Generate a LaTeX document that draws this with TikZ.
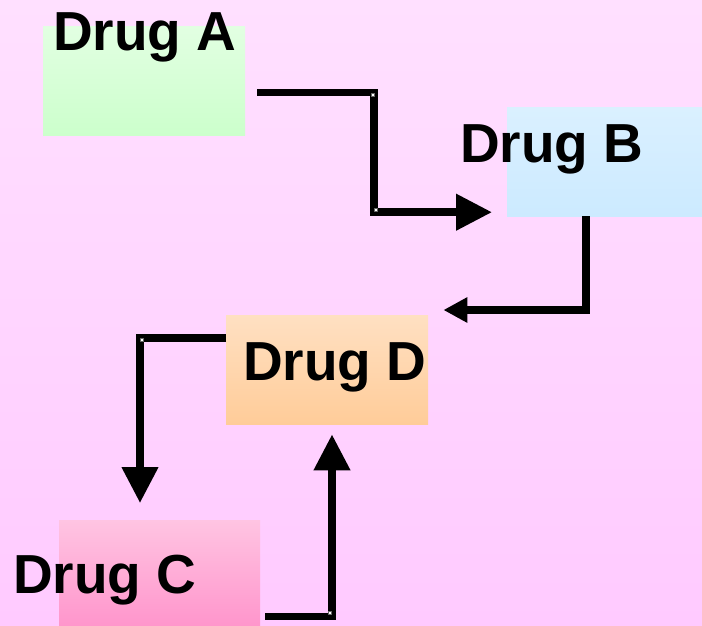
\documentclass[tikz,border=0pt]{standalone}
\usepackage{fontspec}
\setmainfont{Liberation Sans}
\usetikzlibrary{arrows.meta,calc}

\definecolor{bgtop}{RGB}{255,224,255}
\definecolor{bgbot}{RGB}{255,202,255}
\definecolor{atop}{RGB}{226,255,226}
\definecolor{abot}{RGB}{204,255,204}
\definecolor{btop}{RGB}{218,240,255}
\definecolor{bbot}{RGB}{204,234,255}
\definecolor{dtop}{RGB}{255,224,194}
\definecolor{dbot}{RGB}{255,204,153}
\definecolor{ctop}{RGB}{255,196,226}
\definecolor{cbot}{RGB}{255,150,204}

\tikzset{
  drugbox/.style={draw=none, inner sep=0pt, anchor=north west,
    minimum width=202pt, minimum height=109pt},
  druglabel/.style={font=\bfseries\fontsize{55}{60}\selectfont,
    inner sep=0pt, anchor=base west},
  conn/.style={line width=7.5pt, line join=miter, line cap=butt,
    -{Triangle[length=36pt, width=35pt]}},
  connsmall/.style={conn, -{Triangle[length=24pt, width=24pt]}},
  joint/.style={fill=white, draw=black!60, line width=0.4pt,
    minimum size=3pt, inner sep=0pt}
}

\begin{document}
\begin{tikzpicture}[x=1pt, y=-1pt]
  % page background
  \shade[top color=bgtop, bottom color=bgbot] (0,0) rectangle (702,625);
  \useasboundingbox (0,0) rectangle (702,625);

  % coloured boxes
  \node[drugbox, top color=atop, bottom color=abot] (boxA) at (43,26) {};
  \node[drugbox, top color=btop, bottom color=bbot, minimum width=195pt] (boxB) at (507,107) {};
  \node[drugbox, top color=dtop, bottom color=dbot] (boxD) at (226,315) {};
  \node[drugbox, top color=ctop, bottom color=cbot, minimum width=201pt, minimum height=105pt] (boxC) at (59,520) {};

  % labels
  \node[druglabel] (labA) at (53,50)  {Drug A};
  \node[druglabel] (labB) at (460,162) {Drug B};
  \node[druglabel] (labD) at (243,380) {Drug D};
  \node[druglabel] (labC) at (13,593)  {Drug C};

  % connector end points
  \coordinate (sA) at ($(boxA.east)+(12,12)$);
  \coordinate (tB) at ($(boxB.west)+(-15,50.5)$);
  \coordinate (sB) at ($(boxB.south west)+(79,0)$);
  \coordinate (tD1) at ($(boxD.north east)+(15,-5)$);
  \coordinate (sD) at ($(boxD.north west)+(0,23)$);
  \coordinate (tC) at ($(boxC.north west)+(81,-17)$);
  \coordinate (sC) at ($(boxC.south east)+(5,-9)$);
  \coordinate (tD2) at ($(boxD.south west)+(106,10)$);
  \coordinate (bendA) at ($(tB)+(-118,0)$);

  % connectors
  \draw[conn] (sA) -| (bendA) -- (tB);
  \draw[connsmall] (sB) |- (tD1);
  \draw[conn] (sD) -| (tC);
  \draw[conn] (sC) -| (tD2);

  % small joints at the bends
  \node[joint] (j1) at (372.5,94.5) {};
  \node[joint] (j2) at (376,209.5) {};
  \node[joint] (j3) at (141.5,340) {};
  \node[joint] (j4) at (329.5,613) {};
\end{tikzpicture}
\end{document}
